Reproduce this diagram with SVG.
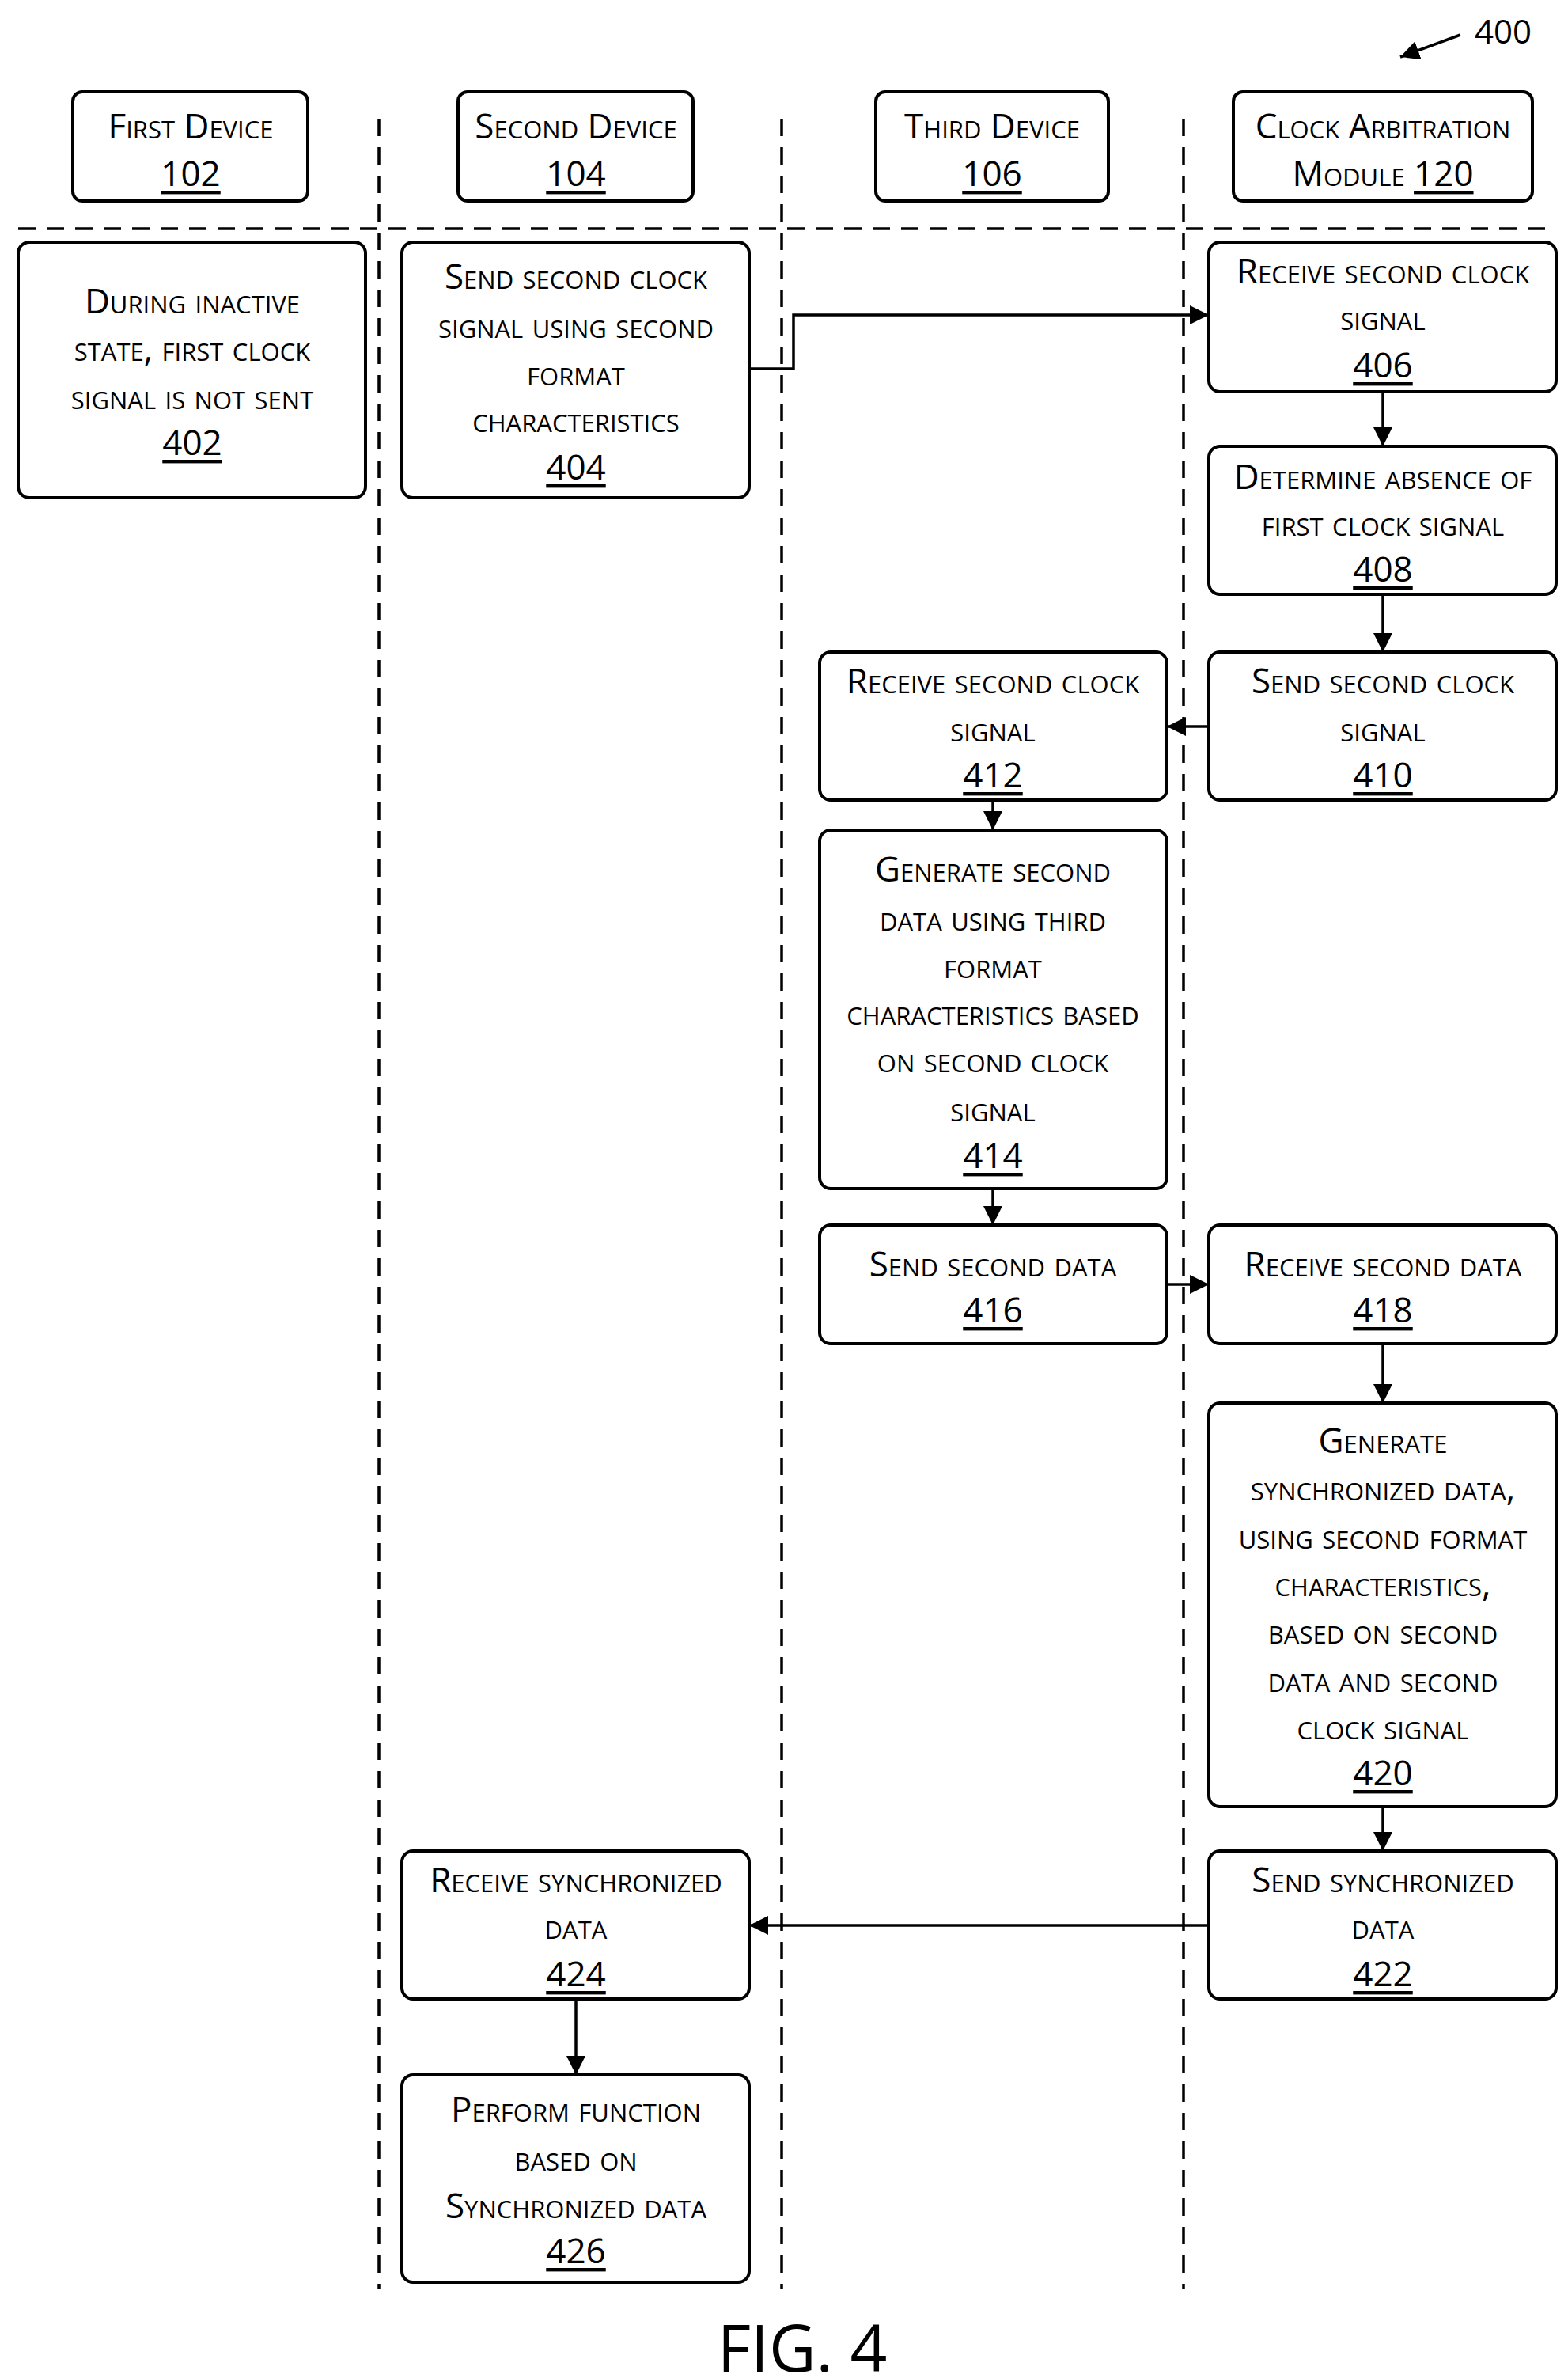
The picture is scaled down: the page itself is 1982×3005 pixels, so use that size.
<svg xmlns="http://www.w3.org/2000/svg" width="1982" height="3005" viewBox="0 0 1982 3005">
<style>
.b{fill:#fff;stroke:#000;stroke-width:4}
.d{stroke:#000;stroke-width:3.5;stroke-dasharray:22,14;fill:none}
.c{stroke:#000;stroke-width:3.5;fill:none}
text{font-family:"Open Sans","Liberation Sans",sans-serif;font-size:44px;font-variant:small-caps;text-anchor:middle;dominant-baseline:central;fill:#000}
.u{text-decoration:underline}
</style>
<defs>
<marker id="ah" viewBox="0 0 10 10" refX="10" refY="5" markerWidth="24" markerHeight="24" markerUnits="userSpaceOnUse" orient="auto"><path d="M0,0L10,5L0,10z"/></marker></defs>
<g id="lanes">
<line class="d" x1="479" y1="150" x2="479" y2="2893"/>
<line class="d" x1="988" y1="150" x2="988" y2="2893"/>
<line class="d" x1="1496" y1="150" x2="1496" y2="2893"/>
<line class="d" x1="23" y1="289" x2="1967" y2="289"/>
</g>
<g id="label400"><text x="1900" y="38" style="font-variant:normal;font-size:42px">400</text>
<path class="c" d="M1846,44 L1770,72" marker-end="url(#ah)"/></g>
<g id="h102"><rect class="b" x="92" y="116" width="297" height="138" rx="12"/><text x="241" y="158">First Device</text><text class="u" x="241" y="218">102</text></g>
<g id="h104"><rect class="b" x="579" y="116" width="297" height="138" rx="12"/><text x="728" y="158">Second Device</text><text class="u" x="728" y="218">104</text></g>
<g id="h106"><rect class="b" x="1107" y="116" width="294" height="138" rx="12"/><text x="1254" y="158">Third Device</text><text class="u" x="1254" y="218">106</text></g>
<g id="h120"><rect class="b" x="1559" y="116" width="378" height="138" rx="12"/><text x="1748" y="158">Clock Arbitration</text><text x="1748" y="218">Module <tspan class="u">120</tspan></text></g>
<g id="n402"><rect class="b" x="23" y="306" width="439" height="323" rx="14"/><text x="243" y="379">During inactive</text><text x="243" y="439">state, first clock</text><text x="243" y="500">signal is not sent</text><text class="u" x="243" y="558">402</text></g>
<g id="n404"><rect class="b" x="508" y="306" width="439" height="323" rx="14"/><text x="728" y="348">Send second clock</text><text x="728" y="410">signal using second</text><text x="728" y="470">format</text><text x="728" y="529">characteristics</text><text class="u" x="728" y="589">404</text></g>
<g id="n406"><rect class="b" x="1528" y="306" width="439" height="189" rx="14"/><text x="1748" y="341">Receive second clock</text><text x="1748" y="400">signal</text><text class="u" x="1748" y="460">406</text></g>
<g id="n408"><rect class="b" x="1528" y="564" width="439" height="187" rx="14"/><text x="1748" y="601">Determine absence of</text><text x="1748" y="660">first clock signal</text><text class="u" x="1748" y="718">408</text></g>
<g id="n410"><rect class="b" x="1528" y="824" width="439" height="187" rx="14"/><text x="1748" y="859">Send second clock</text><text x="1748" y="920">signal</text><text class="u" x="1748" y="978">410</text></g>
<g id="n412"><rect class="b" x="1036" y="824" width="439" height="187" rx="14"/><text x="1255" y="859">Receive second clock</text><text x="1255" y="920">signal</text><text class="u" x="1255" y="978">412</text></g>
<g id="n414"><rect class="b" x="1036" y="1049" width="439" height="453" rx="14"/><text x="1255" y="1097">Generate second</text><text x="1255" y="1159">data using third</text><text x="1255" y="1219">format</text><text x="1255" y="1278">characteristics based</text><text x="1255" y="1338">on second clock</text><text x="1255" y="1400">signal</text><text class="u" x="1255" y="1459">414</text></g>
<g id="n416"><rect class="b" x="1036" y="1548" width="439" height="150" rx="14"/><text x="1255" y="1596">Send second data</text><text class="u" x="1255" y="1654">416</text></g>
<g id="n418"><rect class="b" x="1528" y="1548" width="439" height="150" rx="14"/><text x="1748" y="1596">Receive second data</text><text class="u" x="1748" y="1654">418</text></g>
<g id="n420"><rect class="b" x="1528" y="1773" width="439" height="510" rx="14"/><text x="1748" y="1819">Generate</text><text x="1748" y="1879">synchronized data,</text><text x="1748" y="1940">using second format</text><text x="1748" y="2000">characteristics,</text><text x="1748" y="2060">based on second</text><text x="1748" y="2121">data and second</text><text x="1748" y="2181">clock signal</text><text class="u" x="1748" y="2239">420</text></g>
<g id="n422"><rect class="b" x="1528" y="2339" width="439" height="187" rx="14"/><text x="1748" y="2374">Send synchronized</text><text x="1748" y="2433">data</text><text class="u" x="1748" y="2493">422</text></g>
<g id="n424"><rect class="b" x="508" y="2339" width="439" height="187" rx="14"/><text x="728" y="2374">Receive synchronized</text><text x="728" y="2433">data</text><text class="u" x="728" y="2493">424</text></g>
<g id="n426"><rect class="b" x="508" y="2622" width="439" height="262" rx="14"/><text x="728" y="2664">Perform function</text><text x="728" y="2726">based on</text><text x="728" y="2786">Synchronized data</text><text class="u" x="728" y="2843">426</text></g>
<g id="connectors">
<path class="c" d="M947,466H1003V398H1528" marker-end="url(#ah)"/>
<path class="c" d="M1748,495V564" marker-end="url(#ah)"/>
<path class="c" d="M1748,751V824" marker-end="url(#ah)"/>
<path class="c" d="M1528,918H1475" marker-end="url(#ah)"/>
<path class="c" d="M1255,1011V1049" marker-end="url(#ah)"/>
<path class="c" d="M1255,1502V1548" marker-end="url(#ah)"/>
<path class="c" d="M1475,1623H1528" marker-end="url(#ah)"/>
<path class="c" d="M1748,1698V1773" marker-end="url(#ah)"/>
<path class="c" d="M1748,2283V2339" marker-end="url(#ah)"/>
<path class="c" d="M1528,2433H947" marker-end="url(#ah)"/>
<path class="c" d="M728,2526V2622" marker-end="url(#ah)"/>
</g>
<text x="1014" y="2965" style="font-size:82px;font-variant:normal">FIG. 4</text>
</svg>
